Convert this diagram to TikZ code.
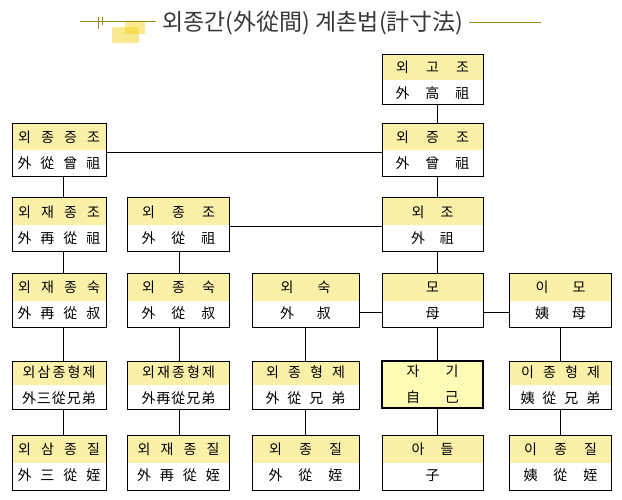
\documentclass[tikz,border=0pt]{standalone}
\usepackage{fontspec}
\usepackage{xcolor}
\newfontfamily\kr{Noto Sans CJK KR}
\usetikzlibrary{calc,positioning}
\definecolor{hdr}{HTML}{FBF0A8}
\definecolor{selfc}{HTML}{FFFCB8}
\definecolor{titleline}{HTML}{9C8A1C}
\definecolor{marky}{HTML}{F3D320}
\tikzset{%
	kin/.style  = {draw, rectangle, line width=1pt, align=center, inner sep=0pt, font=\kr\fontsize{14}{26}\selectfont, path picture={\fill[hdr] (path picture bounding box.north west) rectangle (path picture bounding box.east);}},
	self/.style = {draw, rectangle, line width=2.2pt, fill=selfc, align=center, inner sep=0pt, font=\kr\fontsize{14}{26}\selectfont},
	link/.style = {line width=1pt},
	colA/.style = {minimum width=94pt},
	colB/.style = {minimum width=102pt},
	colC/.style = {minimum width=107pt},
	colD/.style = {minimum width=101pt},
	colE/.style = {minimum width=102pt},
}
\newcommand{\kspread}[2]{\def\kpitch{#1}\kspreadaux#2\relax}
\def\kspreadaux#1{\ifx#1\relax\else\makebox[\kpitch]{#1}\expandafter\kspreadaux\fi}
\newcommand{\kinpair}[3]{\kspread{#1}{#2}\\\kspread{#1}{#3}}

\begin{document}
\begin{tikzpicture}[x=1pt,y=-1pt]
		\useasboundingbox (0,0) rectangle (622,500);
		
		% title
		\fill[marky,opacity=.5] (112,27) rectangle (139,43);
		\fill[marky,opacity=.5] (125,21) rectangle (145,34);
		\draw[titleline] (80,21.3) -- (156,21.3);
		\draw[titleline] (97.7,16.7) -- (97.7,29.3);
		\draw[titleline] (102.3,16.7) -- (102.3,25.3);
		\node[font=\kr\fontsize{23}{23}\selectfont, text=black!78] (title) at (313,23) {외종간(外從間) 계촌법(計寸法)};
		\draw[titleline] (469,22.3) -- (541,22.3);
		
		% ancestors
		\node[kin,colD,minimum height=50pt] (d0) at (432.5,80) {\kinpair{30pt}{외고조}{外高祖}};
		\node[kin,colA,minimum height=53pt] (a1) at (59,150.5) {\kinpair{23pt}{외종증조}{外從曾祖}};
		\node[kin,colD,minimum height=53pt] (d1) at (432.5,150.5) {\kinpair{30pt}{외증조}{外曾祖}};
		\node[kin,colA,minimum height=54pt] (a2) at (59,225) {\kinpair{23pt}{외재종조}{外再從祖}};
		\node[kin,colB,minimum height=54pt] (b2) at (178.5,225) {\kinpair{30pt}{외종조}{外從祖}};
		\node[kin,colD,minimum height=54pt] (d2) at (432.5,225) {\kinpair{29pt}{외조}{外祖}};
		
		% parents row
		\node[kin,colA,minimum height=53pt] (a3) at (59,300.5) {\kinpair{23pt}{외재종숙}{外再從叔}};
		\node[kin,colB,minimum height=53pt] (b3) at (178.5,300.5) {\kinpair{30pt}{외종숙}{外從叔}};
		\node[kin,colC,minimum height=53pt] (c3) at (305.5,300.5) {\kinpair{37pt}{외숙}{外叔}};
		\node[kin,colD,minimum height=53pt] (d3) at (432.5,300.5) {\kinpair{30pt}{모}{母}};
		\node[kin,colE,minimum height=53pt] (e3) at (560.5,300.5) {\kinpair{37pt}{이모}{姨母}};
		
		% own row
		\node[kin,colA,minimum height=48pt] (a4) at (59,385) {\kinpair{15pt}{외삼종형제}{外三從兄弟}};
		\node[kin,colB,minimum height=48pt] (b4) at (178.5,385) {\kinpair{15pt}{외재종형제}{外再從兄弟}};
		\node[kin,colC,minimum height=48pt] (c4) at (305.5,385) {\kinpair{22pt}{외종형제}{外從兄弟}};
		\node[self,minimum width=101pt,minimum height=47pt] (d4) at (432.5,384.5) {\kinpair{39pt}{자기}{自己}};
		\node[kin,colE,minimum height=48pt] (e4) at (560.5,385) {\kinpair{22pt}{이종형제}{姨從兄弟}};
		
		% children row
		\node[kin,colA,minimum height=55pt] (a5) at (59,462.5) {\kinpair{23pt}{외삼종질}{外三從姪}};
		\node[kin,colB,minimum height=55pt] (b5) at (178.5,462.5) {\kinpair{23pt}{외재종질}{外再從姪}};
		\node[kin,colC,minimum height=55pt] (c5) at (305.5,462.5) {\kinpair{30pt}{외종질}{外從姪}};
		\node[kin,colD,minimum height=55pt] (d5) at (432.5,462.5) {\kinpair{29pt}{아들}{子}};
		\node[kin,colE,minimum height=55pt] (e5) at (560.5,462.5) {\kinpair{30pt}{이종질}{姨從姪}};
		
		% line positions
		\coordinate (la) at (63.5,0);
		\coordinate (lb) at (179,0);
		\coordinate (lc) at (305.5,0);
		\coordinate (ld) at (437.5,0);
		\coordinate (le) at (560.5,0);
		
		\foreach \u/\v/\l in {d0/d1/ld,d1/d2/ld,d2/d3/ld,d3/d4/ld,d4/d5/ld,a1/a2/la,a2/a3/la,a3/a4/la,a4/a5/la,b2/b3/lb,b3/b4/lb,b4/b5/lb,c3/c4/lc,c4/c5/lc,e3/e4/le,e4/e5/le} \draw[link] (\u.south -| \l) -- (\v.north -| \l);
		
		\draw[link] (a1.east |- 0,153) -- (d1.west |- 0,153);
		\draw[link] (b2.east |- 0,227) -- (d2.west |- 0,227);
		\draw[link] (c3.east |- 0,312) -- (d3.west |- 0,312);
		\draw[link] (d3.east |- 0,312) -- (e3.west |- 0,312);
		
\end{tikzpicture}
\end{document}
